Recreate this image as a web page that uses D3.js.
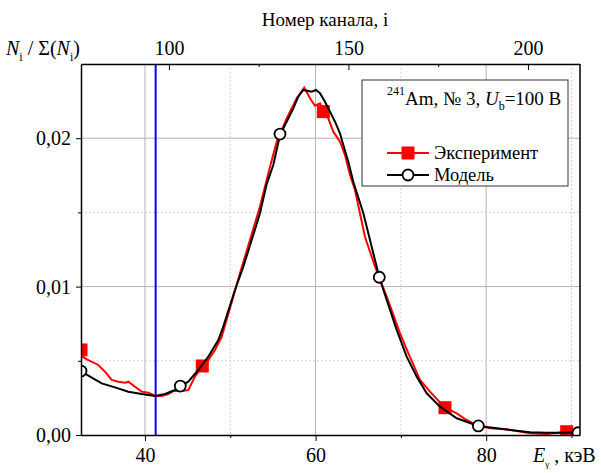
<!DOCTYPE html>
<html>
<head>
<meta charset="utf-8">
<script src="https://cdn.jsdelivr.net/npm/d3@7/dist/d3.min.js"></script>
<style>
    body { margin: 0; background: #fff; }
    .content { width: 601px; height: 473px; }
    .axis path, .axis line { stroke: #000; }
</style>
</head>
<body>
<div class="content"></div>
<script>
// Эксперимент: энергия, кэВ и доля отсчётов
let expE = [32.5, 32.65, 33.36, 34.53, 35.31, 36.1, 36.87, 37.66, 38.05, 38.83, 39.62, 40.39, 41.18, 41.96,
    42.73, 43.32, 44.31, 45.08, 45.86, 46.72, 47.42, 48.21, 48.99, 50.35, 51.14, 52.31, 53.48, 54.66, 55.44,
    56.61, 57.79, 58.68, 59.35, 59.93, 60.52, 60.91, 61.49, 62.08, 62.86, 63.45, 64.04, 64.62, 65.79, 66.97,
    68.34, 69.9, 70.87, 72.24, 73.41, 75.17, 76.55, 77.72, 78.89, 80.45, 82.41, 85.14, 87.1, 89.44, 91.0];
let expN = [0.0054, 0.00528, 0.00505, 0.00472, 0.00427, 0.00371, 0.00359, 0.00352, 0.00359, 0.00325, 0.00292,
    0.00285, 0.00265, 0.00263, 0.00276, 0.00296, 0.00296, 0.00303, 0.00393, 0.00465, 0.00505, 0.00573, 0.00662,
    0.00932, 0.0109, 0.01314, 0.01539, 0.01808, 0.01976, 0.02134, 0.02269, 0.0234, 0.02269, 0.02219, 0.02235,
    0.02179, 0.02134, 0.02044, 0.01976, 0.01887, 0.01752, 0.01651, 0.01336, 0.01134, 0.00932, 0.00685, 0.00551,
    0.00371, 0.00292, 0.00184, 0.00146, 0.00101, 0.00067, 0.00045, 0.00038, 0.00011, 0.00007, 0.00022, 0.00011];
let expMarkE = [32.5, 46.72, 60.91, 75.17, 89.44];
let expMarkN = [0.00573, 0.00465, 0.02179, 0.00184, 0.00022];

// Модель
let modE = [32.5, 33.56, 34.93, 36.49, 38.05, 39.62, 41.18, 42.35, 43.52, 44.14, 45.08, 46.25, 47.42, 48.6,
    49.18, 50.55, 51.53, 52.51, 53.48, 54.27, 55.04, 55.83, 56.61, 57.39, 57.97, 58.56, 59.15, 59.55, 60.05,
    60.52, 61.1, 61.69, 62.28, 62.86, 63.25, 63.84, 64.42, 65.6, 66.77, 67.47, 68.34, 69.51, 70.68, 71.86,
    73.03, 74.59, 76.55, 79.08, 81.23, 83.58, 85.14, 87.1, 89.04, 90.41, 91.0];
let modN = [0.00431, 0.00393, 0.00348, 0.00321, 0.00292, 0.00276, 0.00263, 0.00276, 0.00303, 0.0033, 0.00359,
    0.00438, 0.00528, 0.0064, 0.0073, 0.00977, 0.01134, 0.01314, 0.01494, 0.01691, 0.01819, 0.02022, 0.02111,
    0.02201, 0.0228, 0.02325, 0.02318, 0.02313, 0.02325, 0.02303, 0.02246, 0.02179, 0.02111, 0.02033, 0.01954,
    0.01842, 0.01707, 0.01494, 0.01224, 0.01063, 0.0091, 0.00708, 0.00528, 0.00393, 0.00281, 0.00191, 0.00113,
    0.00061, 0.00045, 0.00029, 0.00018, 0.00015, 0.00015, 0.00018, 0.00016];
let modMarkE = [32.5, 44.14, 55.83, 67.47, 79.08, 90.77];
let modMarkN = [0.00431, 0.0033, 0.02028, 0.01063, 0.00061, 0.00015];

// оси
let xTicks = [40, 60, 80];
let xMinor = [50, 70, 90];
let yTicks = [0, 0.01, 0.02];
let yMinor = [0.005, 0.015, 0.025];
let chTicks = [100, 150, 200];
let chMinor = [125, 175];
let markerLineE = 41.25; // синяя линия

(function () {
    let serif = '"Liberation Serif", "Times New Roman", "DejaVu Serif", serif';
    let margin = {top: 64, right: 21, bottom: 38, left: 81};
    let width = 601 - margin.left - margin.right;
    let height = 473 - margin.top - margin.bottom;

    let xScale = d3.scaleLinear().domain([32.5, 91]).range([0, width]);
    let chScale = d3.scaleLinear().domain([75.5, 214.5]).range([0, width]);
    let yScale = d3.scaleLinear().domain([0, 0.025]).range([height, 0]);

    let comma = function (d) {
        return d3.format('.2f')(d).replace('.', ',');
    };

    let root = d3.select('.content').append('svg')
        .attr('width', 601)
        .attr('height', 473)
        .attr('font-family', serif);

    let svg = root.append('g')
        .attr('transform', 'translate(' + margin.left + ',' + margin.top + ')');

    svg.append('defs').append('clipPath')
        .attr('id', 'plotClip')
        .append('rect')
        .attr('width', width)
        .attr('height', height);

    // сетка
    let grid = svg.append('g').attr('class', 'grid');
    grid.selectAll('.gx').data(xTicks).enter().append('line')
        .attr('x1', d => xScale(d)).attr('x2', d => xScale(d))
        .attr('y1', 0).attr('y2', height)
        .attr('stroke', '#b4b4b4').attr('stroke-width', 1);
    grid.selectAll('.gxm').data(xMinor).enter().append('line')
        .attr('x1', d => xScale(d)).attr('x2', d => xScale(d))
        .attr('y1', 0).attr('y2', height)
        .attr('stroke', '#d2d2d2').attr('stroke-width', 1).attr('stroke-dasharray', '2,2');
    grid.selectAll('.gy').data(yTicks.slice(1)).enter().append('line')
        .attr('y1', d => yScale(d)).attr('y2', d => yScale(d))
        .attr('x1', 0).attr('x2', width)
        .attr('stroke', '#b4b4b4').attr('stroke-width', 1);
    grid.selectAll('.gym').data(yMinor).enter().append('line')
        .attr('y1', d => yScale(d)).attr('y2', d => yScale(d))
        .attr('x1', 0).attr('x2', width)
        .attr('stroke', '#d2d2d2').attr('stroke-width', 1).attr('stroke-dasharray', '2,2');

    // синяя вертикаль
    svg.append('line')
        .attr('x1', xScale(markerLineE)).attr('x2', xScale(markerLineE))
        .attr('y1', 0).attr('y2', height)
        .attr('stroke', '#0000ff').attr('stroke-width', 2);

    let plot = svg.append('g').attr('clip-path', 'url(#plotClip)');

    let line = d3.line()
        .x(d => xScale(d[0]))
        .y(d => yScale(d[1]));

    // эксперимент
    plot.append('path')
        .datum(d3.zip(expE, expN))
        .attr('fill', 'none')
        .attr('stroke', '#ff0000')
        .attr('stroke-width', 2)
        .attr('d', line);

    plot.selectAll('.sq').data(d3.zip(expMarkE, expMarkN)).enter().append('rect')
        .attr('x', d => xScale(d[0]) - 6.5)
        .attr('y', d => yScale(d[1]) - 6.5)
        .attr('width', 13).attr('height', 13)
        .attr('fill', '#ff0000');

    // модель
    plot.append('path')
        .datum(d3.zip(modE, modN))
        .attr('fill', 'none')
        .attr('stroke', '#000')
        .attr('stroke-width', 2)
        .attr('d', line);

    plot.selectAll('.circ').data(d3.zip(modMarkE, modMarkN)).enter().append('circle')
        .attr('cx', d => xScale(d[0]))
        .attr('cy', d => yScale(d[1]))
        .attr('r', 5.5)
        .attr('fill', '#fff')
        .attr('stroke', '#000')
        .attr('stroke-width', 1.8);

    // легенда
    let lg = svg.append('g').attr('transform', 'translate(' + (362 - margin.left) + ',' + (80 - margin.top) + ')');
    lg.append('rect')
        .attr('width', 206).attr('height', 106)
        .attr('fill', '#fff').attr('stroke', '#333').attr('stroke-width', 1);
    let t1 = lg.append('text').attr('x', 25).attr('y', 25).attr('font-size', 19);
    t1.append('tspan').attr('font-size', 12).attr('dy', -10).text('241');
    t1.append('tspan').attr('dy', 10).text('Am, № 3, ');
    t1.append('tspan').attr('font-style', 'italic').text('U');
    t1.append('tspan').attr('font-size', 12).attr('dy', 5).text('b');
    t1.append('tspan').attr('dy', -5).text('=100 В');

    lg.append('line').attr('x1', 25).attr('x2', 67).attr('y1', 73).attr('y2', 73)
        .attr('stroke', '#ff0000').attr('stroke-width', 2);
    lg.append('rect').attr('x', 46 - 6.5).attr('y', 73 - 6.5).attr('width', 13).attr('height', 13)
        .attr('fill', '#ff0000');
    lg.append('text').attr('x', 72).attr('y', 79).attr('font-size', 18.5).text('Эксперимент');

    lg.append('line').attr('x1', 25).attr('x2', 67).attr('y1', 95).attr('y2', 95)
        .attr('stroke', '#000').attr('stroke-width', 2);
    lg.append('circle').attr('cx', 46).attr('cy', 95).attr('r', 5.5)
        .attr('fill', '#fff').attr('stroke', '#000').attr('stroke-width', 1.8);
    lg.append('text').attr('x', 72).attr('y', 101).attr('font-size', 18.5).text('Модель');

    // оси
    let styleAxis = function (g) {
        g.attr('font-family', serif).attr('font-size', 20);
        g.selectAll('text').attr('fill', '#000');
    };

    let buildAxes = function () {
        svg.append('g').attr('class', 'axis')
            .attr('transform', 'translate(0,' + height + ')')
            .call(d3.axisBottom(xScale).tickValues(xTicks).tickSizeInner(6).tickSizeOuter(0).tickPadding(7))
            .call(styleAxis)
            .call(g => g.select('.domain').attr('stroke-width', 1.5));
        svg.append('g').attr('class', 'axis')
            .attr('transform', 'translate(0,' + height + ')')
            .call(d3.axisBottom(xScale).tickValues(xMinor).tickSizeInner(3).tickSizeOuter(0).tickFormat(''))
            .call(g => g.select('.domain').remove());

        svg.append('g').attr('class', 'axis')
            .call(d3.axisTop(chScale).tickValues(chTicks).tickSizeInner(-6).tickSizeOuter(0).tickPadding(9))
            .call(styleAxis)
            .call(g => g.select('.domain').attr('stroke-width', 1.5));
        svg.append('g').attr('class', 'axis')
            .call(d3.axisTop(chScale).tickValues(chMinor).tickSizeInner(-3).tickSizeOuter(0).tickFormat(''))
            .call(g => g.select('.domain').remove());

        svg.append('g').attr('class', 'axis')
            .call(d3.axisLeft(yScale).tickValues(yTicks).tickSizeInner(5).tickSizeOuter(0).tickPadding(5).tickFormat(comma))
            .call(styleAxis)
            .call(g => g.select('.domain').attr('stroke-width', 1.5));
        svg.append('g').attr('class', 'axis')
            .call(d3.axisLeft(yScale).tickValues(yMinor.slice(0, 2)).tickSizeInner(3).tickSizeOuter(0).tickFormat(''))
            .call(g => g.select('.domain').remove());

        svg.append('line')
            .attr('x1', width).attr('x2', width).attr('y1', 0).attr('y2', height)
            .attr('stroke', '#000').attr('stroke-width', 1.5);
    };
    buildAxes();

    // подписи осей
    root.append('text')
        .attr('x', 325).attr('y', 26)
        .attr('text-anchor', 'middle')
        .attr('font-size', 19)
        .text('Номер канала, i');

    let yl = root.append('text').attr('x', 6).attr('y', 55).attr('font-size', 20);
    yl.append('tspan').attr('font-style', 'italic').text('N');
    yl.append('tspan').attr('font-size', 12).attr('dy', 6).text('i');
    yl.append('tspan').attr('dy', -6).text(' / Σ(');
    yl.append('tspan').attr('font-style', 'italic').text('N');
    yl.append('tspan').attr('font-size', 12).attr('dy', 6).text('i');
    yl.append('tspan').attr('dy', -6).text(')');

    let xl = root.append('text').attr('x', 533).attr('y', 462).attr('font-size', 20);
    xl.append('tspan').attr('font-style', 'italic').text('E');
    xl.append('tspan').attr('font-size', 9).attr('dy', 5).text('γ');
    xl.append('tspan').attr('dy', -5).text(' , кэВ');
})();
</script>
</body>
</html>
